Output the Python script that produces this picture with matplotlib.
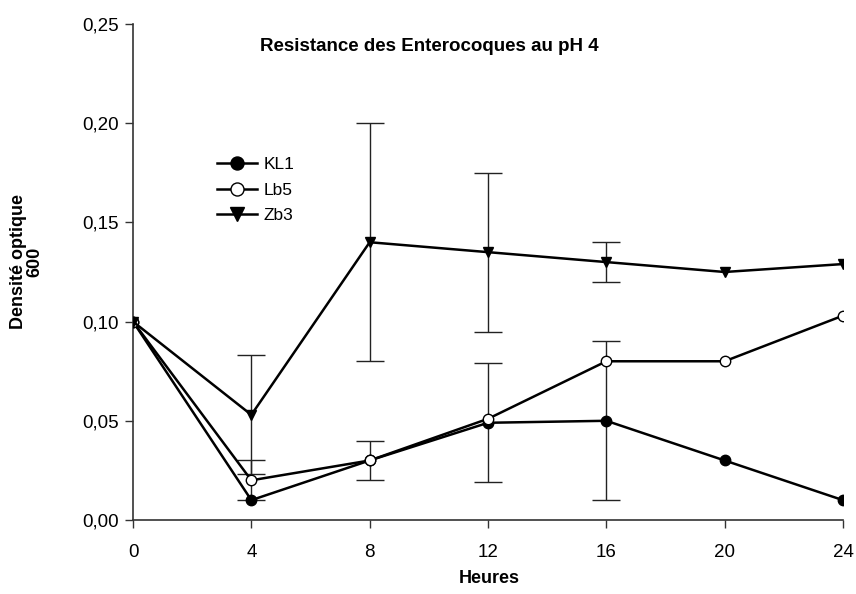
import numpy as np
import matplotlib.pyplot as plt
from matplotlib.ticker import FuncFormatter

plt.rcParams['font.family'] = ['Liberation Sans', 'DejaVu Sans']

heures = [0, 4, 8, 12, 16, 20, 24]

kl1 = [0.10, 0.010, 0.030, 0.049, 0.050, 0.030, 0.010]
lb5 = [0.10, 0.020, 0.030, 0.051, 0.080, 0.080, 0.103]
zb3 = [0.10, 0.053, 0.140, 0.135, 0.130, 0.125, 0.129]

kl1_err = [0, 0, 0, 0.030, 0.040, 0, 0]
lb5_err = [0, 0.010, 0.010, 0, 0, 0, 0]
zb3_err = [0, 0.030, 0.060, 0.040, 0.010, 0, 0]

fig = plt.figure(figsize=(8.56, 5.94), dpi=100)
ax = fig.add_axes([0.1554, 0.1246, 0.8294, 0.835])

series = [
    ('KL1', kl1, kl1_err, 'o', 'black'),
    ('Lb5', lb5, lb5_err, 'o', 'white'),
    ('Zb3', zb3, zb3_err, 'v', 'black'),
]

# error bars first so the markers sit on top
for name, vals, err, mk, fc in series:
    x = np.array(heures)
    y = np.array(vals)
    e = np.array(err)
    m = e > 0
    ax.errorbar(x[m], y[m], yerr=e[m], fmt='none', ecolor='#222222',
                elinewidth=1.0, capsize=10, capthick=1.0, zorder=2)

for name, vals, err, mk, fc in series:
    ax.plot(heures, vals, color='black', lw=1.8, marker=mk, markersize=7.5,
            markerfacecolor=fc, markeredgecolor='black', markeredgewidth=1.0,
            label=name, zorder=3)

ax.set_xlim(0, 24)
ax.set_ylim(0, 0.25)
ax.set_xticks(heures)
ax.set_yticks([0, 0.05, 0.10, 0.15, 0.20, 0.25])
ax.yaxis.set_major_formatter(FuncFormatter(lambda v, p: f'{v:.2f}'.replace('.', ',')))

for s in ['top', 'right']:
    ax.spines[s].set_visible(False)
for s in ['left', 'bottom']:
    ax.spines[s].set_color('#333333')
    ax.spines[s].set_linewidth(1.2)
ax.tick_params(direction='out', length=6, width=1.0, color='#333333',
               labelsize=13.5)
ax.tick_params(axis='x', pad=11)
ax.tick_params(axis='y', pad=4)

fig.text(0.572, 0.026, 'Heures', ha='center', va='center',
         fontsize=13, fontweight='bold')
fig.text(0.031, 0.559, 'Densité optique\n600', rotation=90, ha='center',
         va='center', fontsize=13, fontweight='bold', multialignment='center',
         linespacing=1.0)

fig.text(0.502, 0.921, 'Resistance des Enterocoques au pH 4', ha='center',
         va='center', fontsize=13.5, fontweight='bold')

ax.legend(loc='upper left', bbox_to_anchor=(0.096, 0.763), frameon=False,
          fontsize=12.5, handlelength=2.3, handletextpad=0.4,
          labelspacing=0.6, markerscale=1.25)

fig.savefig('out.png', dpi=100)
